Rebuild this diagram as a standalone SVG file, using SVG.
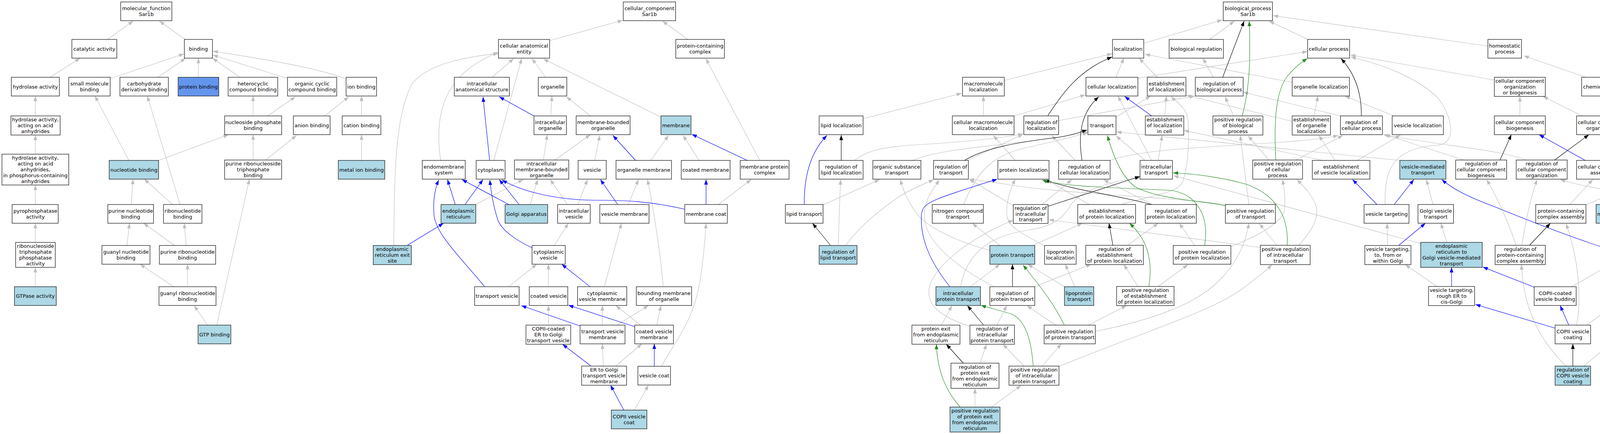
<svg xmlns="http://www.w3.org/2000/svg" width="4592" height="1112" viewBox="0 0 4592 1112">
<style>
.node rect{fill:#fff;stroke:#1a1a1a;stroke-width:1.3}
.node.lb rect{fill:#add8e6}
.node.cb rect{fill:#6495ed}
text{font-family:"DejaVu Sans","Liberation Sans",sans-serif;font-size:13px;text-anchor:middle;fill:#000}
#edges path{fill:none;stroke-width:1.15}
.eg{stroke:#bebebe;marker-end:url(#mg)}
.eb{stroke:#0000ff;marker-end:url(#mb)}
.egr{stroke:#228b22;marker-end:url(#mgr)}
.ek{stroke:#000;marker-end:url(#mk)}
</style>
<defs>
<marker id="mg" viewBox="0 0 13 10" refX="13" refY="5" markerWidth="13" markerHeight="10" markerUnits="userSpaceOnUse" orient="auto"><path d="M0,0.3L13,5L0,9.7z" fill="#bebebe"/></marker>
<marker id="mb" viewBox="0 0 13 10" refX="13" refY="5" markerWidth="13" markerHeight="10" markerUnits="userSpaceOnUse" orient="auto"><path d="M0,0.3L13,5L0,9.7z" fill="#0000ff"/></marker>
<marker id="mgr" viewBox="0 0 13 10" refX="13" refY="5" markerWidth="13" markerHeight="10" markerUnits="userSpaceOnUse" orient="auto"><path d="M0,0.3L13,5L0,9.7z" fill="#228b22"/></marker>
<marker id="mk" viewBox="0 0 13 10" refX="13" refY="5" markerWidth="13" markerHeight="10" markerUnits="userSpaceOnUse" orient="auto"><path d="M0,0.3L13,5L0,9.7z" fill="#000"/></marker>
</defs>
<rect width="4592" height="1112" fill="#fff"/>
<g id="edges">
<g class="eg">
<path d="M275,101L341,54"/><path d="M474,101L408,54"/><path d="M128,198L205,149"/><path d="M283,201L471,138"/><path d="M404,198L475,149"/><path d="M508,198L508,149"/><path d="M614,198L544,149"/><path d="M736,201L545,141"/><path d="M886,202C800,170 650,148 545,131"/><path d="M90.5,297L90.5,246"/><path d="M648,297L648,246"/><path d="M685,297L756,248"/><path d="M831,297L893,248"/><path d="M925.5,297L925.5,246"/><path d="M90.5,395L90.5,346"/><path d="M330,411L243,246"/><path d="M406,411L585,345"/><path d="M648,410L648,345"/><path d="M680,410L759,347"/><path d="M925.5,411L925.5,345"/><path d="M90.5,524L90.5,474"/><path d="M336,524L340.5,459"/><path d="M442,524L369.5,459"/><path d="M461,524L377,246"/><path d="M90.5,621L90.5,572"/><path d="M325,629L331.5,572"/><path d="M447,629L367.5,572"/><path d="M476.5,629L471.5,572"/><path d="M90.5,734.6L90.5,685"/><path d="M444.5,734.6L358.5,677"/><path d="M480,734.6L480,677"/><path d="M531.5,833L497,783"/><path d="M555,833L638.5,459"/>
<path d="M1407,104L1594,52"/><path d="M1761,101L1696,54"/><path d="M1260,198L1315,150"/><path d="M1396,198L1362,150"/><path d="M1264,411L1335.5,150"/><path d="M1692,300L1391,151"/><path d="M1128,411C1112,300 1130,190 1276,134"/><path d="M1008,629C1010,450 1010,300 1055,214C1100,160 1200,145 1276,137"/><path d="M1410,297L1413,246"/><path d="M1511.5,297L1450,248"/><path d="M1391,410L1401,345"/><path d="M1420.5,410L1511.5,345"/><path d="M1522.5,411L1535.5,347"/><path d="M1666,411L1711.5,347"/><path d="M1790,411L1748.5,347"/><path d="M1945,411L1807,150"/><path d="M1218,524L1339.5,460"/><path d="M1357,524L1376.5,460"/><path d="M1452.5,524L1408.5,460"/><path d="M1479.5,524L1504,460"/><path d="M1608.5,524L1634.5,460"/><path d="M1839.5,524L1923,460"/><path d="M1419,629L1455,572"/><path d="M1302,734.6L1374,677"/><path d="M1404,734.6L1404,677"/><path d="M1547,734.6L1591,572"/><path d="M1698,735C1690,640 1670,520 1657.5,460"/><path d="M1404,833L1404,783"/><path d="M1542,833L1542,783"/><path d="M1579,833L1660,783"/><path d="M1640,833L1576.5,783"/><path d="M1681,833L1692,783"/><path d="M1544.5,938L1542,881"/><path d="M1576.5,938L1643,881"/><path d="M1694,938C1730,870 1780,820 1795,700C1803,640 1806,600 1807.5,572"/><path d="M1624,1050.7L1660,987"/>
<path d="M2928,111L3129,51"/><path d="M3096.5,101L3160,54"/><path d="M3348.5,101L3249,54"/><path d="M3809,118L3259,40"/><path d="M3106,198L3079.5,149"/><path d="M2571,206L2847,137.5"/><path d="M2857,198L2877,149"/><path d="M2962.5,198L2916,149"/><path d="M3308,211L2931,139"/><path d="M2913.5,200L3347,132"/><path d="M2210,304L2462,239"/><path d="M2517.5,297L2517.5,246"/><path d="M2596,297L2778.5,243"/><path d="M2710,309L3058,246"/><path d="M2857,300L2945.5,246"/><path d="M2982,297L2986,246"/><path d="M2948,411L2862,246"/><path d="M2931,411L2857,348"/><path d="M2965,411L2975,347"/><path d="M2752.5,411L2692.5,347"/><path d="M2842,411C2950,370 3300,375 3426,347"/><path d="M2476.5,411L2619,344"/><path d="M2337,411C2420,375 2620,372 2785,338"/><path d="M2467,524C2500,440 2540,400 2620,380C2700,362 2750,350 2785,340"/><path d="M2188,411C2220,385 2260,378 2330,372C2450,365 2560,355 2619,343"/><path d="M2107,525L2252,460"/><path d="M2146,628C2148,560 2150,500 2152,460"/><path d="M2166,628C2200,580 2250,540 2300,505C2340,480 2370,470 2390,460"/><path d="M2599,411L2543,347"/><path d="M2545,735C2460,690 2380,630 2368,570C2360,520 2385,490 2405,461"/><path d="M2560,629L2489,572"/><path d="M2534,642C2440,615 2370,580 2345,545C2325,515 2312,490 2305,460"/><path d="M2643.5,629L2771,572"/><path d="M2484,734.6L2560,677"/><path d="M2459,735C2475,650 2530,605 2630,590C2700,580 2720,560 2745,520C2780,480 2860,462 2918,456"/><path d="M2648.5,734.6L2793.5,677"/><path d="M2724.5,734.6L2631,677"/><path d="M2751.5,734.6L2727,677"/><path d="M2673,629C2620,600 2585,585 2578,555C2574,520 2585,490 2599,459"/><path d="M2886.5,628.5L2965,572"/><path d="M2913.5,734L2877,678"/><path d="M2965,734L3041,678"/><path d="M2702.5,833L2629,783"/><path d="M2786,833L2884,783"/><path d="M2804,849C2950,820 3060,780 3120,720C3170,670 3190,620 3197,572"/><path d="M2410,833L2437,783"/><path d="M2552.5,833L2577,783"/><path d="M2482,836C2420,815 2375,790 2378,745C2380,690 2480,610 2594,564"/><path d="M2508.5,930.5L2525.5,882"/><path d="M2621.5,938L2567.5,882"/><path d="M2668,938L2717,881"/><path d="M2711,939C2900,860 3100,800 3180,740C3220,710 3240,695 3256,678"/><path d="M2496,1043L2496,995"/><path d="M2538,1043L2614,987.5"/><path d="M3227,634L2685,563"/><path d="M3268.5,628L3224,573"/><path d="M3325,628C3360,590 3375,560 3370,530C3360,500 3340,480 3320,460"/><path d="M3058,628L3019,572"/><path d="M3151,632C3230,600 3280,570 3288,540C3292,510 3287,480 3283,460"/><path d="M3140,524C3000,505 2700,495 2575,472C2530,465 2500,462 2481,459"/><path d="M3197,524L3175,347"/><path d="M2950.5,524L2825,460"/><path d="M2788.5,524L2680,461"/><path d="M2870,524C2950,500 3010,495 3025,470C3045,430 3045,320 3040,300C3035,275 3010,260 2998,247"/><path d="M2668,524L2744,460"/><path d="M2594,527L2481,459"/><path d="M3637,624L3004,450"/>
<path d="M3825,205L3457,141"/><path d="M3546,524C3544,440 3560,380 3680,372C3730,368 3720,300 3680,250C3630,200 3540,165 3458,146"/><path d="M3364,297L3374,246"/><path d="M3308,311L3037,244"/><path d="M3568,297L3443,246"/><path d="M3431.5,297L3182.5,236"/><path d="M3158,297L3136,248"/><path d="M3317.5,410L3438,347"/><path d="M3248.5,410L3195,348"/><path d="M3418,411L3376.5,347"/><path d="M3474.5,411L3585,346"/><path d="M3386,411L3031,334"/><path d="M3583,411L2858,338"/><path d="M3747,410L3546,345"/><path d="M3905,410C3850,385 3700,375 3541,345"/><path d="M3668.5,524L3651.5,460"/><path d="M3881,628C3865,580 3840,520 3806,460"/><path d="M3896,628C3905,570 3920,500 3935,460"/><path d="M4060,198L3901,143"/><path d="M4221,297L4161,246"/><path d="M3891,297L3891,247"/><path d="M4050.5,297L3950,247"/><path d="M4101.5,411L4101.5,345"/><path d="M4230,411L4139,345"/><path d="M4436,411C4380,385 4280,362 4170,345"/><path d="M4247,525C4330,490 4370,450 4355,400C4340,360 4250,352 4170,347"/><path d="M4018.5,524L4077.5,460"/><path d="M4060,525L4210,460"/><path d="M4372,524L4455.5,460"/><path d="M4434,525C4300,505 4100,495 3994,460"/><path d="M4167,629L4167,572"/><path d="M4207.5,629L4301,572"/><path d="M4190.5,734.6L4320.5,573"/><path d="M4023.5,734.6L4124,677"/><path d="M4062,833L4131,783"/><path d="M4036,833C4050,760 4040,660 4009,573"/><path d="M4009,938C3940,870 3900,790 3895,678"/><path d="M4055,938L4480,573"/><path d="M3552,628L3551,572"/><path d="M3704,621L3688.5,572"/><path d="M3678.5,734L3597.5,678"/>
</g>
<g class="eb">
<path d="M1253.5,411L1236.5,248"/><path d="M1366.5,297L1278,248"/><path d="M1627,411L1569,347"/><path d="M1913,411L1771,344"/><path d="M1165.5,524L1145.5,460"/><path d="M1190.5,524L1236.5,460"/><path d="M1302.5,524L1182.5,460"/><path d="M1329,524L1278,460"/><path d="M1581.5,524L1537,460"/><path d="M1807.5,524L1807.5,460"/><path d="M1753,536C1660,515 1600,513 1520,513C1420,512 1335,490 1285,461"/><path d="M1043.5,628L1135.5,572"/><path d="M1362,635C1320,615 1285,590 1275,565C1265,535 1258,500 1254,461"/><path d="M1241,735C1180,660 1115,600 1111,550C1108,510 1115,480 1123,461"/><path d="M1510.5,734.6L1438,677"/><path d="M1484.5,835L1334.5,783"/><path d="M1625,837L1455,782"/><path d="M1513,938L1440,882"/><path d="M1675,938.5L1675,881"/><path d="M1597,1050.7L1563,987"/>
<path d="M2948,297L2879,247"/><path d="M2059,524C2058,450 2075,390 2117,347"/><path d="M2432,735C2380,670 2355,610 2359,550C2362,520 2375,515 2553,459"/><path d="M3525,524L3462.5,460"/><path d="M3569,524L3619.5,460"/><path d="M4110,636C4000,600 3900,560 3822,528C3760,505 3720,485 3691,460"/><path d="M4058,411L3940,345"/><path d="M4167,734.6L4167,677"/><path d="M3928,736L3796,684"/><path d="M4016,833L3994,783"/><path d="M3982,841L3777,780"/><path d="M3581.5,628L3649,572"/><path d="M3716,734L3716,685"/>
</g>
<g class="ek">
<path d="M3130,198L3185,54"/><path d="M2682,297C2720,240 2760,180 2847,146"/><path d="M2770,411C2760,350 2765,290 2813,248"/><path d="M2469,411C2520,380 2600,365 2700,353C2740,348 2760,340 2783,333"/><path d="M2153.5,411L2153.5,346"/><path d="M2125.5,628L2080,572"/><path d="M2592,734.6L2592,677"/><path d="M2849,628.5L2839,572"/><path d="M2518,833L2476.5,783"/><path d="M2466,930.5L2422.5,882"/><path d="M2948,524C2860,500 2760,490 2673,461"/><path d="M2683,528.5L2918.5,452"/><path d="M3485,297C3486,240 3470,190 3433,150"/><path d="M3916,628L3969,572"/><path d="M3840,410L3869,345"/><path d="M3980,410L4067.5,345"/><path d="M4506,524L4492.5,460"/><path d="M4026.5,938L4026.5,881"/>
</g>
<g class="egr">
<path d="M3180,297C3195,240 3203,180 3198,54"/><path d="M2941,734C2950,680 2945,620 2891.5,572"/><path d="M2724.5,833C2700,780 2660,730 2619,679"/><path d="M2645,938C2640,870 2625,820 2590,805C2560,795 2530,788 2511,782"/><path d="M2458,1043C2420,1000 2400,950 2397,882"/><path d="M3295,628C3300,560 3270,500 3190,472C3130,455 3060,445 3003,443"/><path d="M3084,628C3095,560 3070,500 3000,488C2900,482 2720,480 2668,461"/><path d="M3137,527C3080,515 2960,510 2905,478C2870,450 2850,400 2835,347"/><path d="M3266,410C3262,330 3262,240 3295,196C3310,178 3330,160 3347,150"/>
</g>
</g>
<g id="mf" class="node"><rect x="309" y="5" width="131" height="48"/><text><tspan x="374.5" y="26.1">molecular_function</tspan><tspan x="374.5" y="40.9">Sar1b</tspan></text></g>
<g id="cat" class="node"><rect x="184" y="101" width="115" height="48"/><text x="241.5" y="129.5">catalytic activity</text></g>
<g id="bind" class="node"><rect x="472" y="101" width="72" height="48"/><text x="508" y="129.5">binding</text></g>
<g id="hyd" class="node"><rect x="29" y="198" width="123" height="48"/><text x="90.5" y="226.5">hydrolase activity</text></g>
<g id="smb" class="node"><rect x="176" y="198" width="106" height="48"/><text><tspan x="229" y="219.1">small molecule</tspan><tspan x="229" y="233.9">binding</tspan></text></g>
<g id="cdb" class="node"><rect x="307" y="198" width="124" height="48"/><text><tspan x="369" y="219.1">carbohydrate</tspan><tspan x="369" y="233.9">derivative binding</tspan></text></g>
<g id="pb" class="node cb"><rect x="456" y="198" width="104" height="48"/><text x="508" y="226.5">protein binding</text></g>
<g id="hcb" class="node"><rect x="584" y="198" width="127" height="48"/><text><tspan x="647.5" y="219.1">heterocyclic</tspan><tspan x="647.5" y="233.9">compound binding</tspan></text></g>
<g id="occb" class="node"><rect x="736" y="198" width="126" height="48"/><text><tspan x="799" y="219.1">organic cyclic</tspan><tspan x="799" y="233.9">compound binding</tspan></text></g>
<g id="ionb" class="node"><rect x="886" y="198" width="78" height="48"/><text x="925" y="226.5">ion binding</text></g>
<g id="hyd2" class="node"><rect x="28" y="297" width="126" height="49"/><text><tspan x="90.5" y="311.2">hydrolase activity,</tspan><tspan x="90.5" y="326">acting on acid</tspan><tspan x="90.5" y="340.8">anhydrides</tspan></text></g>
<g id="npb" class="node"><rect x="575" y="297" width="146" height="48"/><text><tspan x="648" y="318.1">nucleoside phosphate</tspan><tspan x="648" y="332.9">binding</tspan></text></g>
<g id="anb" class="node"><rect x="751" y="297" width="94" height="48"/><text x="798" y="325.5">anion binding</text></g>
<g id="catb" class="node"><rect x="876" y="297" width="99" height="48"/><text x="925.5" y="325.5">cation binding</text></g>
<g id="hyd3" class="node"><rect x="5" y="395" width="171" height="79"/><text><tspan x="90.5" y="409.4">hydrolase activity,</tspan><tspan x="90.5" y="424.2">acting on acid</tspan><tspan x="90.5" y="439">anhydrides,</tspan><tspan x="90.5" y="453.8">in phosphorus-containing</tspan><tspan x="90.5" y="468.6">anhydrides</tspan></text></g>
<g id="nb" class="node lb"><rect x="279.5" y="411" width="126.5" height="48"/><text x="342.8" y="439.5">nucleotide binding</text></g>
<g id="prtb" class="node"><rect x="575" y="410" width="146" height="49"/><text><tspan x="648" y="424.2">purine ribonucleoside</tspan><tspan x="648" y="439">triphosphate</tspan><tspan x="648" y="453.8">binding</tspan></text></g>
<g id="mib" class="node lb"><rect x="866" y="411" width="119" height="48"/><text x="925.5" y="439.5">metal ion binding</text></g>
<g id="ppa" class="node"><rect x="31" y="524" width="118" height="48"/><text><tspan x="90.5" y="545.1">pyrophosphatase</tspan><tspan x="90.5" y="559.9">activity</tspan></text></g>
<g id="pnb" class="node"><rect x="276" y="524" width="117" height="48"/><text><tspan x="334.5" y="545.1">purine nucleotide</tspan><tspan x="334.5" y="559.9">binding</tspan></text></g>
<g id="rnb" class="node"><rect x="418.5" y="524" width="98.5" height="48"/><text><tspan x="467.8" y="545.1">ribonucleotide</tspan><tspan x="467.8" y="559.9">binding</tspan></text></g>
<g id="rtpa" class="node"><rect x="40" y="621" width="101.5" height="64"/><text><tspan x="90.8" y="635.3">ribonucleoside</tspan><tspan x="90.8" y="650.1">triphosphate</tspan><tspan x="90.8" y="664.9">phosphatase</tspan><tspan x="90.8" y="679.7">activity</tspan></text></g>
<g id="gnb" class="node"><rect x="261" y="629" width="123" height="48"/><text><tspan x="322.5" y="650.1">guanyl nucleotide</tspan><tspan x="322.5" y="664.9">binding</tspan></text></g>
<g id="prb" class="node"><rect x="408" y="629" width="144" height="48"/><text><tspan x="480" y="650.1">purine ribonucleotide</tspan><tspan x="480" y="664.9">binding</tspan></text></g>
<g id="gtpase" class="node lb"><rect x="37" y="734.6" width="107" height="48"/><text x="90.5" y="763.1">GTPase activity</text></g>
<g id="grb" class="node"><rect x="407" y="734.6" width="146" height="48"/><text><tspan x="480" y="755.7">guanyl ribonucleotide</tspan><tspan x="480" y="770.5">binding</tspan></text></g>
<g id="gtpb" class="node lb"><rect x="507" y="833" width="84" height="48"/><text x="549" y="861.5">GTP binding</text></g>
<g id="cc" class="node"><rect x="1595.5" y="5" width="134" height="48"/><text><tspan x="1662.5" y="26.1">cellular_component</tspan><tspan x="1662.5" y="40.9">Sar1b</tspan></text></g>
<g id="cae" class="node"><rect x="1276" y="101" width="131" height="48"/><text><tspan x="1341.5" y="122.1">cellular anatomical</tspan><tspan x="1341.5" y="136.9">entity</tspan></text></g>
<g id="pcc" class="node"><rect x="1730" y="101" width="124.5" height="48"/><text><tspan x="1792.3" y="122.1">protein-containing</tspan><tspan x="1792.3" y="136.9">complex</tspan></text></g>
<g id="ias" class="node"><rect x="1163" y="198" width="141" height="48"/><text><tspan x="1233.5" y="219.1">intracellular</tspan><tspan x="1233.5" y="233.9">anatomical structure</tspan></text></g>
<g id="org" class="node"><rect x="1378" y="198" width="73" height="48"/><text x="1414.5" y="226.5">organelle</text></g>
<g id="io" class="node"><rect x="1367" y="297" width="83" height="48"/><text><tspan x="1408.5" y="318.1">intracellular</tspan><tspan x="1408.5" y="332.9">organelle</tspan></text></g>
<g id="mbo" class="node"><rect x="1475" y="297" width="138" height="48"/><text><tspan x="1544" y="318.1">membrane-bounded</tspan><tspan x="1544" y="332.9">organelle</tspan></text></g>
<g id="mem" class="node lb"><rect x="1692" y="297" width="77" height="48"/><text x="1730.5" y="325.5">membrane</text></g>
<g id="ems" class="node"><rect x="1081" y="411" width="110" height="48"/><text><tspan x="1136" y="432.1">endomembrane</tspan><tspan x="1136" y="446.9">system</tspan></text></g>
<g id="cyto" class="node"><rect x="1219" y="411" width="74" height="48"/><text x="1256" y="439.5">cytoplasm</text></g>
<g id="imbo" class="node"><rect x="1317" y="410" width="139" height="49"/><text><tspan x="1386.5" y="424.2">intracellular</tspan><tspan x="1386.5" y="439">membrane-bounded</tspan><tspan x="1386.5" y="453.8">organelle</tspan></text></g>
<g id="ves" class="node"><rect x="1480" y="411" width="72" height="48"/><text x="1516" y="439.5">vesicle</text></g>
<g id="om" class="node"><rect x="1577" y="411" width="142" height="48"/><text x="1648" y="439.5">organelle membrane</text></g>
<g id="cm" class="node"><rect x="1744" y="411" width="125" height="48"/><text x="1806.5" y="439.5">coated membrane</text></g>
<g id="mpc" class="node"><rect x="1895" y="411" width="125" height="48"/><text><tspan x="1957.5" y="432.1">membrane protein</tspan><tspan x="1957.5" y="446.9">complex</tspan></text></g>
<g id="er" class="node lb"><rect x="1129" y="524" width="89" height="48"/><text><tspan x="1173.5" y="545.1">endoplasmic</tspan><tspan x="1173.5" y="559.9">reticulum</tspan></text></g>
<g id="golgi" class="node lb"><rect x="1293" y="524" width="109" height="48"/><text x="1347.5" y="552.5">Golgi apparatus</text></g>
<g id="iv" class="node"><rect x="1427.5" y="524" width="83.5" height="48"/><text><tspan x="1469.3" y="545.1">intracellular</tspan><tspan x="1469.3" y="559.9">vesicle</tspan></text></g>
<g id="vm" class="node"><rect x="1535.5" y="524" width="126" height="48"/><text x="1598.5" y="552.5">vesicle membrane</text></g>
<g id="mc" class="node"><rect x="1753" y="524" width="109" height="48"/><text x="1807.5" y="552.5">membrane coat</text></g>
<g id="eres" class="node lb"><rect x="955.5" y="629" width="97.5" height="49"/><text><tspan x="1004.3" y="643.2">endoplasmic</tspan><tspan x="1004.3" y="658">reticulum exit</tspan><tspan x="1004.3" y="672.8">site</tspan></text></g>
<g id="cv" class="node"><rect x="1362" y="629" width="85" height="48"/><text><tspan x="1404.5" y="650.1">cytoplasmic</tspan><tspan x="1404.5" y="664.9">vesicle</tspan></text></g>
<g id="tv" class="node"><rect x="1215" y="734.6" width="114" height="48"/><text x="1272" y="763.1">transport vesicle</text></g>
<g id="cov" class="node"><rect x="1355" y="734.6" width="98.5" height="48"/><text x="1404.3" y="763.1">coated vesicle</text></g>
<g id="cvm" class="node"><rect x="1478.5" y="734.6" width="126" height="48"/><text><tspan x="1541.5" y="755.7">cytoplasmic</tspan><tspan x="1541.5" y="770.5">vesicle membrane</tspan></text></g>
<g id="bmo" class="node"><rect x="1629" y="734.6" width="141.5" height="48"/><text><tspan x="1699.8" y="755.7">bounding membrane</tspan><tspan x="1699.8" y="770.5">of organelle</tspan></text></g>
<g id="copiiv" class="node"><rect x="1346.5" y="833" width="114.5" height="49"/><text><tspan x="1403.8" y="847.2">COPII-coated</tspan><tspan x="1403.8" y="862">ER to Golgi</tspan><tspan x="1403.8" y="876.8">transport vesicle</tspan></text></g>
<g id="tvm" class="node"><rect x="1485" y="833" width="115" height="48"/><text><tspan x="1542.5" y="854.1">transport vesicle</tspan><tspan x="1542.5" y="868.9">membrane</tspan></text></g>
<g id="covm" class="node"><rect x="1625" y="833" width="99" height="48"/><text><tspan x="1674.5" y="854.1">coated vesicle</tspan><tspan x="1674.5" y="868.9">membrane</tspan></text></g>
<g id="ergtvm" class="node"><rect x="1489" y="938" width="115" height="49"/><text><tspan x="1546.5" y="952.2">ER to Golgi</tspan><tspan x="1546.5" y="967">transport vesicle</tspan><tspan x="1546.5" y="981.8">membrane</tspan></text></g>
<g id="vc" class="node"><rect x="1633" y="938.5" width="83.5" height="48"/><text x="1674.8" y="967">vesicle coat</text></g>
<g id="copiicoat" class="node lb"><rect x="1565" y="1050.7" width="91" height="48"/><text><tspan x="1610.5" y="1071.8">COPII vesicle</tspan><tspan x="1610.5" y="1086.6">coat</tspan></text></g>
<g id="bp" class="node"><rect x="3131.5" y="5" width="126" height="48"/><text><tspan x="3194.5" y="26.1">biological_process</tspan><tspan x="3194.5" y="40.9">Sar1b</tspan></text></g>
<g id="loc" class="node"><rect x="2848" y="101" width="80" height="48"/><text x="2888" y="129.5">localization</text></g>
<g id="breg" class="node"><rect x="2993" y="101" width="139" height="48"/><text x="3062.5" y="129.5">biological regulation</text></g>
<g id="cp" class="node"><rect x="3347.5" y="101" width="107.5" height="48"/><text x="3401.3" y="129.5">cellular process</text></g>
<g id="hp" class="node"><rect x="3809" y="101" width="86" height="48"/><text><tspan x="3852" y="122.1">homeostatic</tspan><tspan x="3852" y="136.9">process</tspan></text></g>
<g id="mloc" class="node"><rect x="2464" y="198" width="107" height="48"/><text><tspan x="2517.5" y="219.1">macromolecule</tspan><tspan x="2517.5" y="233.9">localization</tspan></text></g>
<g id="cloc" class="node"><rect x="2780" y="198" width="133" height="48"/><text x="2846.5" y="226.5">cellular localization</text></g>
<g id="estloc" class="node"><rect x="2937" y="198" width="99" height="48"/><text><tspan x="2986.5" y="219.1">establishment</tspan><tspan x="2986.5" y="233.9">of localization</tspan></text></g>
<g id="rbp" class="node"><rect x="3060" y="198" width="122.5" height="48"/><text><tspan x="3121.3" y="219.1">regulation of</tspan><tspan x="3121.3" y="233.9">biological process</tspan></text></g>
<g id="oloc" class="node"><rect x="3308" y="198" width="146.5" height="48"/><text x="3381.3" y="226.5">organelle localization</text></g>
<g id="ccob" class="node"><rect x="3825.5" y="198" width="130.5" height="49"/><text><tspan x="3890.8" y="212.2">cellular component</tspan><tspan x="3890.8" y="227">organization</tspan><tspan x="3890.8" y="241.8">or biogenesis</tspan></text></g>
<g id="chom" class="node"><rect x="4049" y="198" width="152" height="48"/><text x="4125" y="226.5">chemical homeostasis</text></g>
<g id="lloc" class="node"><rect x="2097" y="297" width="112.5" height="48"/><text x="2153.3" y="325.5">lipid localization</text></g>
<g id="cmloc" class="node"><rect x="2438" y="297" width="158" height="48"/><text><tspan x="2517" y="318.1">cellular macromolecule</tspan><tspan x="2517" y="332.9">localization</tspan></text></g>
<g id="rloc" class="node"><rect x="2621" y="297" width="89" height="48"/><text><tspan x="2665.5" y="318.1">regulation of</tspan><tspan x="2665.5" y="332.9">localization</tspan></text></g>
<g id="trans" class="node"><rect x="2785" y="297" width="72" height="48"/><text x="2821" y="325.5">transport</text></g>
<g id="estlocc" class="node"><rect x="2932" y="297" width="98.5" height="49"/><text><tspan x="2981.3" y="311.2">establishment</tspan><tspan x="2981.3" y="326">of localization</tspan><tspan x="2981.3" y="340.8">in cell</tspan></text></g>
<g id="prbp" class="node"><rect x="3105" y="297" width="128" height="49"/><text><tspan x="3169" y="311.2">positive regulation</tspan><tspan x="3169" y="326">of biological</tspan><tspan x="3169" y="340.8">process</tspan></text></g>
<g id="estoloc" class="node"><rect x="3308" y="297" width="98" height="49"/><text><tspan x="3357" y="311.2">establishment</tspan><tspan x="3357" y="326">of organelle</tspan><tspan x="3357" y="340.8">localization</tspan></text></g>
<g id="rcp" class="node"><rect x="3431.5" y="297" width="107.5" height="48"/><text><tspan x="3485.3" y="318.1">regulation of</tspan><tspan x="3485.3" y="332.9">cellular process</tspan></text></g>
<g id="vloc" class="node"><rect x="3564" y="297" width="131" height="48"/><text x="3629.5" y="325.5">vesicle localization</text></g>
<g id="ccb" class="node"><rect x="3825.5" y="297" width="130.5" height="48"/><text><tspan x="3890.8" y="318.1">cellular component</tspan><tspan x="3890.8" y="332.9">biogenesis</tspan></text></g>
<g id="cco" class="node"><rect x="4036" y="297" width="131" height="48"/><text><tspan x="4101.5" y="318.1">cellular component</tspan><tspan x="4101.5" y="332.9">organization</tspan></text></g>
<g id="lhom" class="node lb"><rect x="4191" y="297" width="121" height="48"/><text x="4251.5" y="325.5">lipid homeostasis</text></g>
<g id="rlloc" class="node"><rect x="2097" y="411" width="112.5" height="48"/><text><tspan x="2153.3" y="432.1">regulation of</tspan><tspan x="2153.3" y="446.9">lipid localization</tspan></text></g>
<g id="ost" class="node"><rect x="2234.5" y="411" width="123" height="48"/><text><tspan x="2296" y="432.1">organic substance</tspan><tspan x="2296" y="446.9">transport</tspan></text></g>
<g id="rtrans" class="node"><rect x="2390" y="411" width="89" height="48"/><text><tspan x="2434.5" y="432.1">regulation of</tspan><tspan x="2434.5" y="446.9">transport</tspan></text></g>
<g id="ploc" class="node"><rect x="2554.5" y="411" width="131" height="48"/><text x="2620" y="439.5">protein localization</text></g>
<g id="rcloc" class="node"><rect x="2710" y="411" width="132" height="48"/><text><tspan x="2776" y="432.1">regulation of</tspan><tspan x="2776" y="446.9">cellular localization</tspan></text></g>
<g id="itrans" class="node"><rect x="2918.5" y="411" width="83" height="48"/><text><tspan x="2960" y="432.1">intracellular</tspan><tspan x="2960" y="446.9">transport</tspan></text></g>
<g id="prcp" class="node"><rect x="3207" y="410" width="127.5" height="49"/><text><tspan x="3270.8" y="424.2">positive regulation</tspan><tspan x="3270.8" y="439">of cellular</tspan><tspan x="3270.8" y="453.8">process</tspan></text></g>
<g id="estvloc" class="node"><rect x="3359.5" y="411" width="147.5" height="48"/><text><tspan x="3433.3" y="432.1">establishment</tspan><tspan x="3433.3" y="446.9">of vesicle localization</tspan></text></g>
<g id="vmt" class="node lb"><rect x="3583.5" y="411" width="118" height="48"/><text><tspan x="3642.5" y="432.1">vesicle-mediated</tspan><tspan x="3642.5" y="446.9">transport</tspan></text></g>
<g id="rccb" class="node"><rect x="3726.5" y="410" width="130.5" height="49"/><text><tspan x="3791.8" y="424.2">regulation of</tspan><tspan x="3791.8" y="439">cellular component</tspan><tspan x="3791.8" y="453.8">biogenesis</tspan></text></g>
<g id="rcco" class="node"><rect x="3881.5" y="410" width="130.5" height="49"/><text><tspan x="3946.8" y="424.2">regulation of</tspan><tspan x="3946.8" y="439">cellular component</tspan><tspan x="3946.8" y="453.8">organization</tspan></text></g>
<g id="cca" class="node"><rect x="4036" y="411" width="131" height="48"/><text><tspan x="4101.5" y="432.1">cellular component</tspan><tspan x="4101.5" y="446.9">assembly</tspan></text></g>
<g id="pcco" class="node"><rect x="4190" y="411" width="147" height="48"/><text><tspan x="4263.5" y="432.1">protein-containing</tspan><tspan x="4263.5" y="446.9">complex organization</tspan></text></g>
<g id="oorg" class="node"><rect x="4412" y="411" width="152" height="48"/><text x="4488" y="439.5">organelle organization</text></g>
<g id="ltrans" class="node"><rect x="2010.5" y="524" width="96.5" height="48"/><text x="2058.8" y="552.5">lipid transport</text></g>
<g id="nct" class="node"><rect x="2386.5" y="524" width="131" height="48"/><text><tspan x="2452" y="545.1">nitrogen compound</tspan><tspan x="2452" y="559.9">transport</tspan></text></g>
<g id="ritrans" class="node"><rect x="2594" y="524" width="89" height="48.5"/><text><tspan x="2638.5" y="537.7">regulation of</tspan><tspan x="2638.5" y="552.5">intracellular</tspan><tspan x="2638.5" y="567.3">transport</tspan></text></g>
<g id="estploc" class="node"><rect x="2759" y="524" width="148" height="48"/><text><tspan x="2833" y="545.1">establishment</tspan><tspan x="2833" y="559.9">of protein localization</tspan></text></g>
<g id="rploc" class="node"><rect x="2932" y="524" width="130.5" height="48"/><text><tspan x="2997.3" y="545.1">regulation of</tspan><tspan x="2997.3" y="559.9">protein localization</tspan></text></g>
<g id="prtrans" class="node"><rect x="3137" y="524" width="128" height="48"/><text><tspan x="3201" y="545.1">positive regulation</tspan><tspan x="3201" y="559.9">of transport</tspan></text></g>
<g id="vtarg" class="node"><rect x="3492" y="524" width="115" height="48"/><text x="3549.5" y="552.5">vesicle targeting</text></g>
<g id="gvt" class="node"><rect x="3630" y="524" width="91" height="48"/><text><tspan x="3675.5" y="545.1">Golgi vesicle</tspan><tspan x="3675.5" y="559.9">transport</tspan></text></g>
<g id="pcca" class="node"><rect x="3931.5" y="524" width="128.5" height="48"/><text><tspan x="3995.8" y="545.1">protein-containing</tspan><tspan x="3995.8" y="559.9">complex assembly</tspan></text></g>
<g id="morg" class="node lb"><rect x="4086" y="524" width="162" height="48"/><text x="4167" y="552.5">membrane organization</text></g>
<g id="vorg" class="node lb"><rect x="4273" y="524" width="136" height="48"/><text x="4341" y="552.5">vesicle organization</text></g>
<g id="roorg" class="node"><rect x="4434.5" y="524" width="152.5" height="48"/><text><tspan x="4510.8" y="545.1">regulation of</tspan><tspan x="4510.8" y="559.9">organelle organization</tspan></text></g>
<g id="rltrans" class="node lb"><rect x="2097" y="629" width="97" height="48"/><text><tspan x="2145.5" y="650.1">regulation of</tspan><tspan x="2145.5" y="664.9">lipid transport</tspan></text></g>
<g id="ptrans" class="node lb"><rect x="2534" y="629" width="115" height="48"/><text x="2591.5" y="657.5">protein transport</text></g>
<g id="lploc" class="node"><rect x="2674" y="629" width="81" height="48"/><text><tspan x="2714.5" y="650.1">lipoprotein</tspan><tspan x="2714.5" y="664.9">localization</tspan></text></g>
<g id="restploc" class="node"><rect x="2779.5" y="628.5" width="147.5" height="49.5"/><text><tspan x="2853.3" y="643">regulation of</tspan><tspan x="2853.3" y="657.8">establishment</tspan><tspan x="2853.3" y="672.6">of protein localization</tspan></text></g>
<g id="prploc" class="node"><rect x="3003.5" y="629" width="147.5" height="48"/><text><tspan x="3077.3" y="650.1">positive regulation</tspan><tspan x="3077.3" y="664.9">of protein localization</tspan></text></g>
<g id="pritrans" class="node"><rect x="3226.5" y="628.5" width="127.5" height="49.5"/><text><tspan x="3290.3" y="643">positive regulation</tspan><tspan x="3290.3" y="657.8">of intracellular</tspan><tspan x="3290.3" y="672.6">transport</tspan></text></g>
<g id="vtgolgi" class="node"><rect x="3494" y="629" width="118" height="49"/><text><tspan x="3553" y="643.2">vesicle targeting,</tspan><tspan x="3553" y="658">to, from or</tspan><tspan x="3553" y="672.8">within Golgi</tspan></text></g>
<g id="ergvmt" class="node lb"><rect x="3637" y="621" width="157.5" height="64"/><text><tspan x="3715.8" y="635.3">endoplasmic</tspan><tspan x="3715.8" y="650.1">reticulum to</tspan><tspan x="3715.8" y="664.9">Golgi vesicle-mediated</tspan><tspan x="3715.8" y="679.7">transport</tspan></text></g>
<g id="rpcca" class="node"><rect x="3827.5" y="628.5" width="128.5" height="49.5"/><text><tspan x="3891.8" y="643">regulation of</tspan><tspan x="3891.8" y="657.8">protein-containing</tspan><tspan x="3891.8" y="672.6">complex assembly</tspan></text></g>
<g id="vbud" class="node"><rect x="4110" y="629" width="113" height="48"/><text><tspan x="4166.5" y="650.1">vesicle budding</tspan><tspan x="4166.5" y="664.9">from membrane</tspan></text></g>
<g id="iptrans" class="node lb"><rect x="2396" y="734.6" width="114" height="48"/><text><tspan x="2453" y="755.7">intracellular</tspan><tspan x="2453" y="770.5">protein transport</tspan></text></g>
<g id="rptrans" class="node"><rect x="2534" y="734.6" width="115" height="48"/><text><tspan x="2591.5" y="755.7">regulation of</tspan><tspan x="2591.5" y="770.5">protein transport</tspan></text></g>
<g id="lptrans" class="node lb"><rect x="2725" y="734.6" width="75" height="48"/><text><tspan x="2762.5" y="755.7">lipoprotein</tspan><tspan x="2762.5" y="770.5">transport</tspan></text></g>
<g id="prestploc" class="node"><rect x="2858.5" y="734" width="147" height="49"/><text><tspan x="2932" y="748.2">positive regulation</tspan><tspan x="2932" y="763">of establishment</tspan><tspan x="2932" y="777.8">of protein localization</tspan></text></g>
<g id="vtrough" class="node"><rect x="3657" y="734" width="118" height="49"/><text><tspan x="3716" y="748.2">vesicle targeting,</tspan><tspan x="3716" y="763">rough ER to</tspan><tspan x="3716" y="777.8">cis-Golgi</tspan></text></g>
<g id="copiibud" class="node"><rect x="3927.5" y="734.6" width="107.5" height="48"/><text><tspan x="3981.3" y="755.7">COPII-coated</tspan><tspan x="3981.3" y="770.5">vesicle budding</tspan></text></g>
<g id="vcoat" class="node"><rect x="4114.5" y="734.6" width="103.5" height="48"/><text x="4166.3" y="763.1">vesicle coating</text></g>
<g id="pexit" class="node"><rect x="2334.5" y="833" width="123" height="49"/><text><tspan x="2396" y="847.2">protein exit</tspan><tspan x="2396" y="862">from endoplasmic</tspan><tspan x="2396" y="876.8">reticulum</tspan></text></g>
<g id="riptrans" class="node"><rect x="2483" y="833" width="114" height="49"/><text><tspan x="2540" y="847.2">regulation of</tspan><tspan x="2540" y="862">intracellular</tspan><tspan x="2540" y="876.8">protein transport</tspan></text></g>
<g id="prptrans" class="node"><rect x="2673" y="833" width="131" height="48"/><text><tspan x="2738.5" y="854.1">positive regulation</tspan><tspan x="2738.5" y="868.9">of protein transport</tspan></text></g>
<g id="copiicoating" class="node"><rect x="3981" y="833" width="91" height="48"/><text><tspan x="4026.5" y="854.1">COPII vesicle</tspan><tspan x="4026.5" y="868.9">coating</tspan></text></g>
<g id="rpexit" class="node"><rect x="2434.5" y="930.5" width="123" height="64.5"/><text><tspan x="2496" y="945.1">regulation of</tspan><tspan x="2496" y="959.9">protein exit</tspan><tspan x="2496" y="974.7">from endoplasmic</tspan><tspan x="2496" y="989.5">reticulum</tspan></text></g>
<g id="priptrans" class="node"><rect x="2583" y="938" width="128" height="49"/><text><tspan x="2647" y="952.2">positive regulation</tspan><tspan x="2647" y="967">of intracellular</tspan><tspan x="2647" y="981.8">protein transport</tspan></text></g>
<g id="rcopii" class="node lb"><rect x="3981" y="938" width="91" height="49"/><text><tspan x="4026.5" y="952.2">regulation of</tspan><tspan x="4026.5" y="967">COPII vesicle</tspan><tspan x="4026.5" y="981.8">coating</tspan></text></g>
<g id="prpexit" class="node lb"><rect x="2432" y="1043" width="128" height="64"/><text><tspan x="2496" y="1057.3">positive regulation</tspan><tspan x="2496" y="1072.1">of protein exit</tspan><tspan x="2496" y="1086.9">from endoplasmic</tspan><tspan x="2496" y="1101.7">reticulum</tspan></text></g>
</svg>
